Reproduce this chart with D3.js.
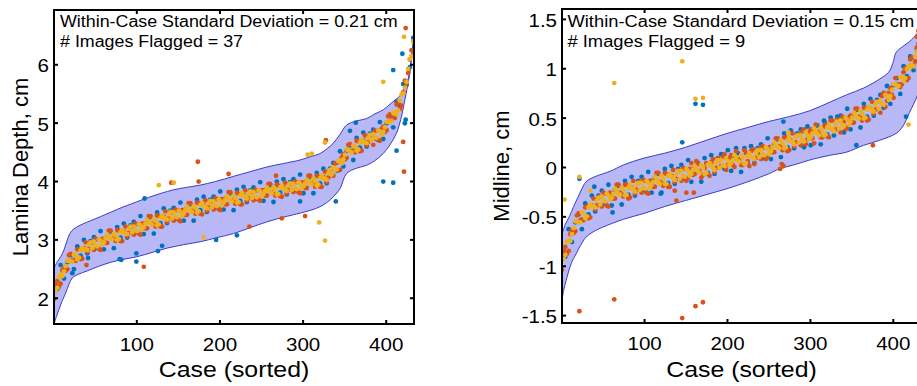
<!DOCTYPE html>
<html>
<head>
<meta charset="utf-8">
<script src="https://cdn.jsdelivr.net/npm/d3@7"></script>
<style>
  body { margin: 0; background: #fff; }
  text { font-family: Arial, "Liberation Sans", Helvetica, sans-serif; fill: #000; }
</style>
</head>
<body>
<svg id="chart" width="917" height="386"></svg>
<script>
// ---- data ----
// sorted case index (every 4th case, plus a second set offset by 2)
const sampledCases = [1,5,9,13,17,21,25,29,33,37,41,45,49,53,57,61,65,69,73,77,81,85,89,93,97,101,105,109,113,117,121,125,129,133,137,141,145,149,153,157,161,165,169,173,177,181,185,189,193,197,201,205,209,213,217,221,225,229,233,237,241,245,249,253,257,261,265,269,273,277,281,285,289,293,297,301,305,309,313,317,321,325,329,333,337,341,345,349,353,357,361,365,369,373,377,381,385,389,393,397,401,405,409,413,417,421,425,429,433];
const sampledCases2 = [3,7,11,15,19,23,27,31,35,39,43,47,51,55,59,63,67,71,75,79,83,87,91,95,99,103,107,111,115,119,123,127,131,135,139,143,147,151,155,159,163,167,171,175,179,183,187,191,195,199,203,207,211,215,219,223,227,231,235,239,243,247,251,255,259,263,267,271,275,279,283,287,291,295,299,303,307,311,315,319,323,327,331,335,339,343,347,351,355,359,363,367,371,375,379,383,387,391,395,399,403,407,411,415,419,423,427,431];

const xTicks = [100, 200, 300, 400];
const caseDomain = [1, 434];

// Lamina depth (cm)
const depthBlue = [2.20,2.15,2.56,2.33,2.61,2.73,2.49,2.88,2.72,2.99,2.76,2.97,
  3.04,2.86,3.14,2.83,3.06,3.13,2.85,3.21,3.03,3.27,3.03,3.24,
  3.30,3.12,3.40,3.09,3.31,3.38,3.10,3.46,3.28,3.53,3.28,3.49,
  3.54,3.36,3.63,3.32,3.54,3.60,3.32,3.68,3.50,3.73,3.47,3.68,
  3.73,3.55,3.82,3.51,3.72,3.79,3.50,3.85,3.66,3.90,3.64,3.84,
  3.89,3.70,3.98,3.66,3.87,3.93,3.64,3.99,3.80,4.03,3.77,3.98,
  4.03,3.84,4.11,3.79,4.00,4.07,3.79,4.14,3.96,4.21,3.96,4.21,
  4.31,4.18,4.51,4.25,4.52,4.61,4.36,4.74,4.57,4.83,4.59,4.81,
  4.88,4.72,5.01,4.72,4.99,5.12,4.92,5.36,5.29,5.66,5.64,5.95,
  6.45];
const depthRed = [1.98,2.29,2.24,2.51,2.49,2.75,2.65,2.83,2.66,2.85,2.78,2.94,
  2.82,3.00,2.82,3.01,2.94,3.15,3.01,3.16,2.97,3.13,3.05,3.21,
  3.08,3.26,3.08,3.27,3.19,3.40,3.26,3.41,3.22,3.39,3.30,3.46,
  3.32,3.50,3.31,3.50,3.42,3.62,3.48,3.63,3.44,3.59,3.49,3.65,
  3.51,3.69,3.50,3.69,3.60,3.81,3.66,3.80,3.60,3.76,3.66,3.81,
  3.67,3.84,3.66,3.84,3.75,3.95,3.80,3.94,3.74,3.89,3.79,3.95,
  3.81,3.98,3.79,3.97,3.88,4.09,3.95,4.09,3.90,4.07,3.98,4.18,
  4.09,4.31,4.19,4.46,4.40,4.63,4.52,4.69,4.51,4.69,4.61,4.78,
  4.62,4.86,4.69,4.93,4.87,5.14,5.08,5.31,5.23,5.52,5.66,6.08,
  6.21];
const depthYellow = [2.12,2.17,2.40,2.45,2.63,2.62,2.74,2.66,2.81,2.83,2.82,2.95,
  2.96,2.88,2.98,2.95,3.08,3.02,3.10,2.99,3.12,3.11,3.09,3.22,
  3.22,3.14,3.24,3.21,3.33,3.27,3.35,3.24,3.37,3.37,3.34,3.47,
  3.46,3.38,3.47,3.44,3.56,3.49,3.57,3.46,3.59,3.57,3.53,3.66,
  3.65,3.57,3.66,3.63,3.74,3.68,3.75,3.63,3.75,3.74,3.70,3.82,
  3.81,3.72,3.82,3.78,3.89,3.82,3.89,3.77,3.89,3.87,3.83,3.96,
  3.95,3.86,3.95,3.91,4.02,3.96,4.04,3.92,4.05,4.05,4.02,4.19,
  4.23,4.20,4.35,4.37,4.54,4.50,4.61,4.52,4.66,4.67,4.65,4.79,
  4.80,4.74,4.85,4.84,5.01,5.01,5.17,5.14,5.38,5.50,5.70,6.09,
  6.39];
const depthRed2 = [2.23,2.19,2.47,2.46,2.73,2.64,2.63,2.83,2.67,2.95,2.84,2.95,
  3.01,2.84,3.01,2.94,3.15,3.02,2.97,3.15,2.97,3.22,3.11,3.22,
  3.27,3.10,3.27,3.19,3.40,3.27,3.22,3.40,3.22,3.48,3.36,3.46,
  3.51,3.33,3.50,3.42,3.62,3.49,3.44,3.62,3.43,3.67,3.55,3.65,
  3.70,3.52,3.69,3.60,3.81,3.67,3.61,3.78,3.60,3.84,3.71,3.81,
  3.85,3.68,3.84,3.75,3.95,3.81,3.75,3.92,3.73,3.97,3.85,3.95,
  3.99,3.81,3.97,3.88,4.09,3.96,3.90,4.08,3.90,4.16,4.06,4.21,
  4.30,4.18,4.40,4.37,4.62,4.51,4.49,4.68,4.52,4.78,4.67,4.79,
  4.86,4.70,4.89,4.84,5.11,5.05,5.08,5.35,5.29,5.72,5.85,6.24];
const depthYellow2 = [2.12,2.35,2.37,2.54,2.64,2.62,2.73,2.69,2.86,2.83,2.91,2.85,
  2.90,3.00,2.91,3.02,3.06,3.00,3.07,3.01,3.16,3.10,3.18,3.12,
  3.16,3.26,3.17,3.27,3.31,3.25,3.32,3.26,3.41,3.36,3.43,3.36,
  3.40,3.49,3.40,3.50,3.53,3.47,3.54,3.48,3.62,3.55,3.62,3.55,
  3.59,3.68,3.59,3.68,3.72,3.65,3.71,3.64,3.79,3.72,3.78,3.71,
  3.74,3.84,3.74,3.83,3.86,3.79,3.85,3.78,3.92,3.85,3.92,3.85,
  3.88,3.97,3.87,3.96,4.00,3.94,4.00,3.94,4.09,4.04,4.13,4.11,
  4.19,4.34,4.30,4.45,4.53,4.49,4.59,4.54,4.71,4.66,4.74,4.69,
  4.75,4.86,4.79,4.92,5.02,5.03,5.18,5.21,5.48,5.60,5.92,6.14];
// stray reads: [case, value, series] (0 blue, 1 red, 2 yellow)
const depthOutliers = [[174,4.33,1],[109,2.53,1],[80,2.66,0],[100,2.76,0],[126,2.80,0],[131,2.89,0],
  [127,3.93,2],[142,3.97,1],[145,3.97,2],[175,3.99,1],[196,2.99,0],[181,3.04,2],[221,3.07,0],
  [211,4.12,1],[236,3.22,1],[275,3.36,1],[297,3.65,0],[303,3.40,1],[320,3.29,2],[327,2.98,2],
  [328,4.70,1],[327,4.66,2],[340,3.65,0],[397,3.99,0],[409,3.97,0],[413,4.52,0],[422,4.16,1],
  [421,4.67,1],[423,4.99,0],[424,5.05,0],[397,5.70,2],[409,5.90,0],[424,6.62,1],[422,6.47,2],
  [420,6.18,0],[306,4.45,2],[311,4.47,2],[268,4.09,1],[364,5.00,0],[357,4.86,0],[40,2.56,1],
  [23,2.42,0],[42,2.68,0],[100,2.62,0],[82,2.65,0],[110,3.70,0]];
const depthUpperCases = [1,5,9,13,17,21,25,35,45,57,70,85,100,115,130,145,160,177,195,217,237,257,277,297,310,321,330,337,345,353,365,377,387,397,407,417,423,427,430,433,434];
const depthUpper = [2.50,2.62,2.70,2.82,2.99,3.12,3.18,3.26,3.32,3.39,3.47,3.56,3.64,3.72,3.79,3.85,3.89,3.93,3.99,4.08,4.16,4.24,4.30,4.36,4.42,4.47,4.56,4.65,4.80,4.96,5.03,5.07,5.15,5.22,5.34,5.46,5.62,5.75,6.02,6.40,6.85];
const depthLowerCases = [1,4,7,11,15,19,23,30,41,55,70,85,100,120,137,157,177,197,217,237,257,277,297,310,321,330,337,345,353,365,377,387,397,405,413,418,423,429,432,434];
const depthLower = [1.55,1.68,1.80,1.95,2.08,2.23,2.34,2.40,2.46,2.54,2.61,2.66,2.70,2.78,2.85,2.91,2.96,3.03,3.10,3.20,3.30,3.38,3.45,3.50,3.56,3.64,3.73,3.87,4.13,4.22,4.27,4.35,4.47,4.62,4.82,5.05,5.39,5.85,6.20,6.53];
const depthTicks = [2, 3, 4, 5, 6];

// Midline (cm)
const midBlue = [-0.88,-0.91,-0.63,-0.76,-0.56,-0.48,-0.63,-0.37,-0.48,-0.29,-0.45,-0.29,
  -0.24,-0.37,-0.18,-0.39,-0.23,-0.19,-0.38,-0.14,-0.28,-0.10,-0.29,-0.14,
  -0.10,-0.24,-0.05,-0.26,-0.11,-0.07,-0.26,-0.02,-0.16,0.01,-0.17,-0.02,
  0.02,-0.12,0.07,-0.15,0.00,0.04,-0.15,0.09,-0.06,0.12,-0.07,0.09,
  0.13,-0.02,0.17,-0.04,0.11,0.14,-0.05,0.19,0.04,0.21,0.04,0.19,
  0.23,0.09,0.29,0.08,0.24,0.28,0.10,0.34,0.20,0.37,0.19,0.34,
  0.38,0.20,0.41,0.22,0.38,0.42,0.23,0.47,0.33,0.50,0.32,0.51,
  0.52,0.35,0.59,0.38,0.54,0.58,0.40,0.64,0.51,0.69,0.52,0.68,
  0.73,0.60,0.82,0.64,0.83,0.90,0.74,1.02,0.92,1.12,0.98,1.19,
  1.22];
const midRed = [-1.04,-0.81,-0.85,-0.64,-0.65,-0.47,-0.53,-0.41,-0.52,-0.39,-0.43,-0.31,
  -0.40,-0.27,-0.40,-0.27,-0.32,-0.18,-0.28,-0.18,-0.32,-0.21,-0.27,-0.16,
  -0.26,-0.14,-0.27,-0.14,-0.20,-0.06,-0.16,-0.06,-0.20,-0.09,-0.15,-0.04,
  -0.14,-0.02,-0.11,0.04,-0.07,0.03,-0.11,-0.01,-0.07,0.05,-0.05,0.09,
  0.01,0.13,0.02,0.12,0.00,0.08,0.02,0.17,0.06,0.16,0.03,0.14,
  0.08,0.20,0.10,0.20,0.15,0.29,0.20,0.30,0.16,0.27,0.21,0.32,
  0.22,0.38,0.28,0.38,0.24,0.36,0.30,0.41,0.31,0.47,0.37,0.48,
  0.35,0.46,0.40,0.52,0.45,0.59,0.50,0.60,0.47,0.59,0.54,0.66,
  0.55,0.75,0.67,0.80,0.70,0.84,0.81,0.96,0.88,1.09,1.03,1.21,
  1.36];
const midYellow = [-0.94,-0.89,-0.74,-0.68,-0.55,-0.56,-0.46,-0.52,-0.41,-0.40,-0.41,-0.31,
  -0.30,-0.35,-0.29,-0.31,-0.22,-0.27,-0.21,-0.29,-0.21,-0.22,-0.25,-0.16,
  -0.16,-0.22,-0.16,-0.18,-0.10,-0.15,-0.09,-0.17,-0.09,-0.10,-0.13,-0.04,
  -0.04,-0.10,-0.04,-0.07,0.01,-0.04,0.02,-0.07,0.02,0.01,-0.03,0.07,
  0.07,0.01,0.06,0.04,0.12,0.06,0.12,0.03,0.11,0.10,0.08,0.17,
  0.17,0.12,0.18,0.16,0.25,0.20,0.27,0.19,0.27,0.26,0.23,0.32,
  0.32,0.26,0.32,0.30,0.39,0.34,0.40,0.32,0.40,0.39,0.36,0.46,
  0.47,0.41,0.48,0.46,0.55,0.50,0.57,0.49,0.58,0.58,0.56,0.66,
  0.67,0.63,0.72,0.72,0.84,0.82,0.91,0.87,0.99,1.01,1.02,1.17,
  1.31];
const midRed2 = [-0.85,-0.88,-0.68,-0.67,-0.49,-0.54,-0.54,-0.40,-0.51,-0.32,-0.39,-0.30,
  -0.26,-0.39,-0.26,-0.32,-0.18,-0.26,-0.30,-0.18,-0.31,-0.14,-0.23,-0.15,
  -0.13,-0.26,-0.14,-0.20,-0.06,-0.15,-0.19,-0.07,-0.20,-0.03,-0.12,-0.04,
  -0.01,-0.14,-0.02,-0.08,0.06,-0.04,-0.08,0.04,-0.09,0.08,-0.01,0.07,
  0.10,-0.03,0.09,0.02,0.16,0.07,0.02,0.14,0.01,0.18,0.09,0.18,
  0.21,0.08,0.20,0.15,0.29,0.21,0.17,0.30,0.17,0.34,0.25,0.33,
  0.36,0.23,0.35,0.29,0.43,0.34,0.30,0.43,0.30,0.47,0.38,0.47,
  0.51,0.38,0.50,0.45,0.59,0.51,0.47,0.60,0.48,0.66,0.58,0.67,
  0.72,0.61,0.75,0.73,0.90,0.84,0.84,1.00,0.90,1.11,1.07,1.25];
const midYellow2 = [-0.93,-0.76,-0.75,-0.62,-0.55,-0.56,-0.47,-0.50,-0.38,-0.40,-0.34,-0.38,
  -0.34,-0.27,-0.33,-0.27,-0.24,-0.28,-0.23,-0.28,-0.18,-0.22,-0.18,-0.23,
  -0.21,-0.14,-0.21,-0.15,-0.12,-0.17,-0.12,-0.17,-0.07,-0.11,-0.07,-0.12,
  -0.09,-0.02,-0.09,-0.03,-0.01,-0.06,-0.01,-0.06,0.04,0.00,0.04,-0.01,
  0.02,0.09,0.02,0.07,0.10,0.05,0.09,0.04,0.14,0.10,0.14,0.10,
  0.13,0.20,0.13,0.20,0.23,0.19,0.24,0.20,0.30,0.26,0.30,0.25,
  0.28,0.35,0.28,0.34,0.37,0.32,0.37,0.33,0.43,0.39,0.43,0.39,
  0.43,0.50,0.43,0.50,0.53,0.49,0.54,0.50,0.61,0.58,0.63,0.59,
  0.64,0.73,0.68,0.78,0.84,0.82,0.91,0.90,1.03,1.03,1.12,1.17];
const midOutliers = [[64,0.85,2],[146,1.07,2],[162,0.69,2],[162,0.64,0],[171,0.70,2],[171,0.63,0],
  [22,-1.46,1],[64,-1.34,1],[146,-1.53,1],[162,-1.41,1],[171,-1.37,1],[22,-0.10,2],[22,-0.12,0],
  [4,-0.33,2],[146,0.25,0],[419,0.43,2],[416,0.51,0],[376,0.22,1],[356,0.22,0],[137,-0.24,1],
  [151,-0.26,1],[160,-0.26,1],[139,-0.34,1],[62,-0.46,0],[211,0.19,0],[266,0.03,1],[268,0.01,1],
  [318,0.45,0],[429,1.32,1],[431,1.38,1],[432,1.25,1],[40,-0.20,0],[35,-0.24,2],[120,-0.27,0],
  [268,0.46,0],[274,0.35,2],[264,-0.02,1]];
const midUpperCases = [1,5,10,15,20,25,30,40,50,60,75,100,125,150,175,200,225,250,275,300,325,344,365,384,395,400,404,412,420,429,434];
const midUpper = [-0.68,-0.58,-0.50,-0.40,-0.31,-0.22,-0.15,-0.10,-0.07,-0.04,0.02,0.09,0.14,0.20,0.27,0.34,0.40,0.46,0.51,0.57,0.66,0.73,0.80,0.89,0.96,1.05,1.16,1.22,1.27,1.35,1.45];
const midLowerCases = [1,3,6,12,18,25,30,40,50,75,100,125,150,175,200,225,250,263,280,304,325,344,365,384,404,412,420,429,434];
const midLower = [-1.35,-1.25,-1.15,-0.98,-0.88,-0.77,-0.71,-0.65,-0.61,-0.53,-0.47,-0.40,-0.34,-0.28,-0.22,-0.15,-0.07,-0.02,0.02,0.08,0.12,0.15,0.22,0.27,0.34,0.41,0.55,0.71,0.85];
const midTicks = [-1.5, -1, -0.5, 0, 0.5, 1, 1.5];

const seriesColors = ["#0072BD", "#D95319", "#EDB120"];

// ---- layout ----
const svg = d3.select("#chart");
svg.append("rect").attr("width", 917).attr("height", 386).attr("fill", "#fff");

const panels = [
  { id: "depth", left: 54, right: 414, top: 10, bottom: 324,
    yDomain: [1.55, 6.93], yTicks: depthTicks, yLabel: "Lamina Depth, cm", yLabelX: 28,
    // drawn in this order: blue, red, yellow on top
    layers: [[0, sampledCases, depthBlue], [1, sampledCases, depthRed], [1, sampledCases2, depthRed2],
             [2, sampledCases, depthYellow], [2, sampledCases2, depthYellow2]],
    outliers: depthOutliers,
    upper: [depthUpperCases, depthUpper], lower: [depthLowerCases, depthLower],
    notes: ["Within-Case Standard Deviation = 0.21 cm", "# Images Flagged = 37"], noteX: 60, noteK: 1.115 },
  { id: "midline", left: 562, right: 921, top: 9, bottom: 323,
    yDomain: [-1.58, 1.6], yTicks: midTicks, yLabel: "Midline, cm", yLabelX: 509,
    layers: [[0, sampledCases, midBlue], [1, sampledCases, midRed], [1, sampledCases2, midRed2],
             [2, sampledCases, midYellow], [2, sampledCases2, midYellow2]],
    outliers: midOutliers,
    upper: [midUpperCases, midUpper], lower: [midLowerCases, midLower],
    notes: ["Within-Case Standard Deviation = 0.15 cm", "# Images Flagged = 9"], noteX: 567.5, noteK: 1.145 }
];

// source image is a little wider than tall, so horizontal text gets stretched
function stretch(sel, k) {
  sel.each(function() {
    const w = this.getComputedTextLength();
    d3.select(this).attr("textLength", w * k).attr("lengthAdjust", "spacingAndGlyphs");
  });
}

function styleAxis(g, size) {
  g.select(".domain").remove();
  g.selectAll(".tick line").attr("stroke", "#000").attr("stroke-width", 2);
  g.attr("font-size", size).attr("font-family", null);
}

panels.forEach(p => {
  const x = d3.scaleLinear().domain(caseDomain).range([p.left, p.right]);
  const y = d3.scaleLinear().domain(p.yDomain).range([p.bottom, p.top]);

  const clipId = "clip-" + p.id;
  svg.append("clipPath").attr("id", clipId)
    .append("rect")
    .attr("x", p.left).attr("y", p.top)
    .attr("width", p.right - p.left).attr("height", p.bottom - p.top);

  const plot = svg.append("g").attr("clip-path", `url(#${clipId})`);

  // shaded band: upper edge left->right, lower edge back right->left
  const bandPts = p.upper[0].map((c, i) => [c, p.upper[1][i]])
    .concat(p.lower[0].map((c, i) => [c, p.lower[1][i]]).reverse());
  const bandLine = d3.line()
    .x(d => x(d[0])).y(d => y(d[1]))
    .curve(d3.curveCatmullRom.alpha(0.5));
  plot.append("path")
    .attr("d", bandLine(bandPts) + "Z")
    .attr("fill", "#b8b8f7")
    .attr("stroke", "#3c3cc8")
    .attr("stroke-width", 1);

  // reads
  p.layers.forEach(([s, cases, vals], li) => {
    let pts = cases.map((c, i) => [c, vals[i]]);
    // stray reads go with the first layer of their colour
    if (p.layers.findIndex(l => l[0] === s) === li) {
      pts = pts.concat(p.outliers.filter(o => o[2] === s).map(o => [o[0], o[1]]));
    }
    plot.append("g").selectAll("circle")
      .data(pts)
      .join("circle")
      .attr("cx", d => x(d[0]))
      .attr("cy", d => y(d[1]))
      .attr("r", 2.4)
      .attr("fill", seriesColors[s]);
  });

  // axes, ticks inward, box on all four sides
  const bottomAx = svg.append("g")
    .attr("transform", `translate(0,${p.bottom})`)
    .call(d3.axisBottom(x).tickValues(xTicks).tickSizeInner(-4).tickSizeOuter(0)
      .tickPadding(14).tickFormat(d3.format("d")));
  styleAxis(bottomAx, 19);
  stretch(bottomAx.selectAll("text"), 1.08);

  const topAx = svg.append("g")
    .attr("transform", `translate(0,${p.top})`)
    .call(d3.axisTop(x).tickValues(xTicks).tickSizeInner(-4).tickSizeOuter(0).tickFormat(""));
  styleAxis(topAx, 19);

  const leftAx = svg.append("g")
    .attr("transform", `translate(${p.left},0)`)
    .call(d3.axisLeft(y).tickValues(p.yTicks).tickSizeInner(-4).tickSizeOuter(0)
      .tickPadding(5).tickFormat(d => String(d)));
  styleAxis(leftAx, 19);
  leftAx.selectAll("text").attr("dy", "0.4em");
  stretch(leftAx.selectAll("text"), 1.08);

  const rightAx = svg.append("g")
    .attr("transform", `translate(${p.right},0)`)
    .call(d3.axisRight(y).tickValues(p.yTicks).tickSizeInner(-4).tickSizeOuter(0).tickFormat(""));
  styleAxis(rightAx, 19);

  svg.append("rect")
    .attr("x", p.left).attr("y", p.top)
    .attr("width", p.right - p.left).attr("height", p.bottom - p.top)
    .attr("fill", "none").attr("stroke", "#000").attr("stroke-width", 2);

  // labels
  const xl = svg.append("text")
    .attr("x", (p.left + p.right) / 2).attr("y", 377)
    .attr("text-anchor", "middle").attr("font-size", 22)
    .text("Case (sorted)");
  stretch(xl, 1.13);

  svg.append("text")
    .attr("transform", `translate(${p.yLabelX},${(p.top + p.bottom) / 2}) rotate(-90)`)
    .attr("text-anchor", "middle").attr("font-size", 22)
    .text(p.yLabel);

  const notes = svg.append("g").selectAll("text")
    .data(p.notes)
    .join("text")
    .attr("x", p.noteX)
    .attr("y", (d, i) => 27 + i * 19.7)
    .attr("font-size", 16)
    .text(d => d);
  stretch(notes, p.noteK);
});
</script>
</body>
</html>
